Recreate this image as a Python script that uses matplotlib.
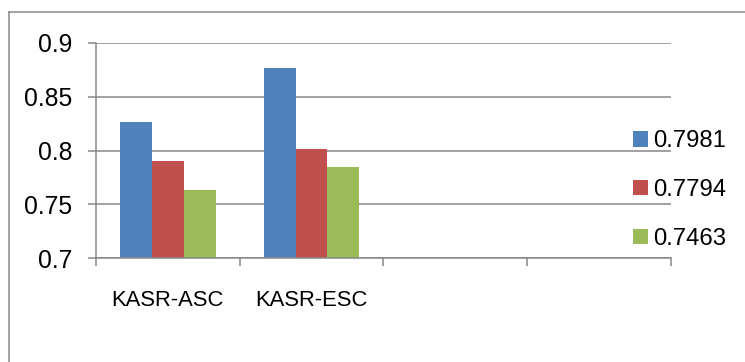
import matplotlib
matplotlib.use("Agg")
import matplotlib.pyplot as plt
from matplotlib.lines import Line2D
from matplotlib.patches import Patch
import numpy as np

categories = ["KASR-ASC", "KASR-ESC", "", ""]
series_names = ["0.7981", "0.7794", "0.7463"]
series_values = [
    [0.827, 0.8765, None, None],
    [0.790, 0.8015, None, None],
    [0.763, 0.7845, None, None],
]
colors = ["#4F81BD", "#C0504D", "#9BBB59"]
yticks = [0.7, 0.75, 0.8, 0.85, 0.9]
ytick_labels = ["0.7", "0.75", "0.8", "0.85", "0.9"]

W, H = 745, 362
fig = plt.figure(figsize=(W / 100, H / 100), dpi=100)
ax = fig.add_axes([96 / W, 1 - 258.3 / H, (670.7 - 96) / W, (258.3 - 43) / H])

regular = ["Liberation Sans", "DejaVu Sans"]
grey = "#878787"

n = len(series_names)
bw = 1 / 4.5
x = np.arange(len(categories)) + 0.5
for i, (name, vals) in enumerate(zip(series_names, series_values)):
    xs = [xx + (i - (n - 1) / 2) * bw for xx, v in zip(x, vals) if v is not None]
    vs = [v for v in vals if v is not None]
    ax.bar(xs, [v - 0.7 for v in vs], bottom=0.7, width=bw, color=colors[i],
           edgecolor="none", label=name, zorder=3)

ax.set_xlim(0, len(categories))
ax.set_ylim(0.7, 0.9)
ax.set_yticks(yticks)
ax.set_yticklabels(ytick_labels, family=regular, fontsize=17.8)
ax.set_xticks(np.arange(len(categories) + 1))
ax.set_xticklabels([])
ax.set_xticks(x, minor=True)
ax.set_xticklabels(categories, minor=True, family=regular, fontsize=15.8)

ax.tick_params(axis="y", which="major", length=8 * 0.72, width=1.1, color=grey, pad=11.5)
ax.tick_params(axis="x", which="major", length=8 * 0.72, width=1.1, color=grey)
ax.tick_params(axis="x", which="minor", length=0, pad=22.5)
ax.yaxis.grid(True, color=grey, linewidth=1.1, zorder=0)
ax.set_axisbelow(True)
for s in ["top", "right"]:
    ax.spines[s].set_visible(False)
for s in ["left", "bottom"]:
    ax.spines[s].set_color(grey)
    ax.spines[s].set_linewidth(1.1)
    ax.spines[s].set_zorder(4)

handles = [Patch(facecolor=c, edgecolor="none") for c in colors]
fig.legend(handles, series_names, loc="center left",
           bbox_to_anchor=(633 / W, 1 - 190 / H), frameon=False,
           prop={"family": regular, "size": 17.2}, handlelength=0.64,
           handleheight=0.62, handletextpad=0.22, labelspacing=1.12,
           borderpad=0, borderaxespad=0)

fig.add_artist(Line2D([9 / W, 1], [1 - 12 / H, 1 - 12 / H], transform=fig.transFigure,
                      color=grey, linewidth=1.1))
fig.add_artist(Line2D([9 / W, 9 / W], [0, 1 - 12 / H], transform=fig.transFigure,
                      color=grey, linewidth=1.1))

fig.savefig("out.png", dpi=100)
